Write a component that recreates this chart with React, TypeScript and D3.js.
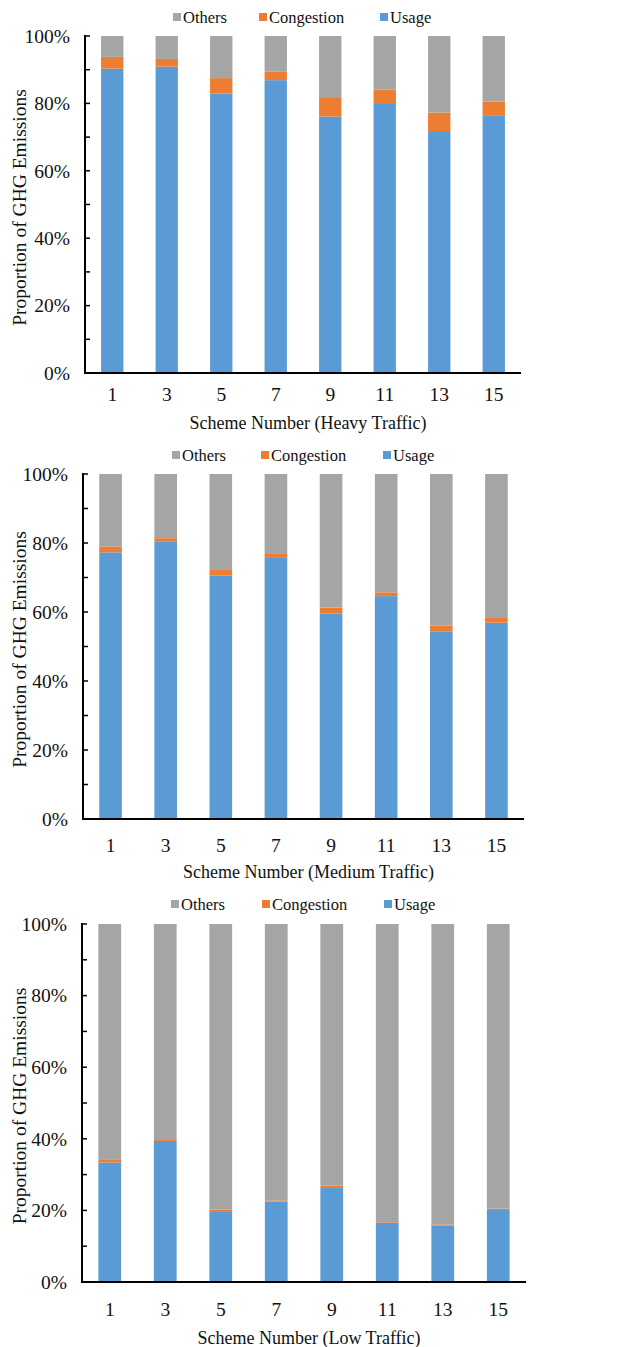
import React from 'react';
import * as d3 from 'd3';

const schemes = ['1', '3', '5', '7', '9', '11', '13', '15'];
const seriesKeys = ['usage', 'congestion', 'others'];
const seriesNames = { usage: 'Usage', congestion: 'Congestion', others: 'Others' };
const seriesColors = { usage: '#5b9bd5', congestion: '#ed7d31', others: '#a5a5a5' };
const legendOrder = ['others', 'congestion', 'usage'];
const yTicks = [0, 20, 40, 60, 80, 100];
const yMinorTicks = [10, 30, 50, 70, 90];

const heavyUsage = [90.3, 90.9, 82.9, 86.9, 76.1, 80.1, 71.8, 76.5];
const heavyCongestion = [3.5, 2.3, 4.6, 2.6, 5.5, 4.0, 5.5, 4.0];
const heavyOthers = [6.2, 6.8, 12.5, 10.5, 18.4, 15.9, 22.7, 19.5];

const mediumUsage = [77.3, 80.5, 70.6, 75.9, 59.5, 64.6, 54.4, 56.9];
const mediumCongestion = [1.7, 0.9, 1.8, 0.9, 1.8, 1.1, 1.7, 1.6];
const mediumOthers = [21.0, 18.6, 27.6, 23.2, 38.7, 34.3, 43.9, 41.5];

const lowUsage = [33.4, 39.4, 19.8, 22.5, 26.5, 16.6, 15.8, 20.1];
const lowCongestion = [0.7, 0.5, 0.4, 0.3, 0.4, 0.4, 0.3, 0.4];
const lowOthers = [65.9, 60.1, 79.8, 77.2, 73.1, 83.0, 83.9, 79.5];

const FONT = 'Liberation Serif';
const INK = '#111';

function Panel({ usage, congestion, others, title, box, legendY, legendX, tickY, titleY }) {
  const rows = schemes.map((s, i) => ({ scheme: s, usage: usage[i], congestion: congestion[i], others: others[i] }));
  const stacked = d3.stack().keys(seriesKeys)(rows);

  const x = d3.scaleBand().domain(schemes).range([box.left, box.right]).paddingInner(0.59).paddingOuter(0.295);
  const y = d3.scaleLinear().domain([0, 100]).range([box.bottom, box.top]);

  return (
    <g fontFamily={FONT} fill={INK}>
      {/* legend */}
      {legendOrder.map((k, i) => (
        <g key={k} transform={`translate(${legendX[i]}, ${legendY})`}>
          <rect x={0} y={-4} width={8} height={8} fill={seriesColors[k]} />
          <text x={10} y={0} dy="0.35em" fontSize={16.5} fill={INK}>{seriesNames[k]}</text>
        </g>
      ))}

      {/* bars */}
      {stacked.map(layer => (
        <g key={layer.key} fill={seriesColors[layer.key]}>
          {layer.map((d, i) => (
            <rect
              key={i}
              x={x(schemes[i])}
              y={y(d[1])}
              width={x.bandwidth()}
              height={Math.max(0, y(d[0]) - y(d[1]))}
            />
          ))}
        </g>
      ))}

      {/* y axis */}
      <line x1={box.left} x2={box.left} y1={box.top - 1} y2={box.bottom} stroke="#000" strokeWidth={2} />
      {yTicks.concat(yMinorTicks).map(t => (
        <line key={t} x1={box.left} x2={box.left + 5} y1={y(t)} y2={y(t)} stroke="#000" strokeWidth={1.5} />
      ))}
      {yTicks.map(t => (
        <text key={t} x={box.left - 15} y={y(t)} dy="0.35em" textAnchor="end" fontSize={19.5} fill={INK}>
          {t}%
        </text>
      ))}
      <text
        transform={`translate(${19}, ${(box.top + box.bottom) / 2 + 3}) rotate(-90)`}
        textAnchor="middle"
        dy="0.35em"
        fontSize={19.5}
        fill={INK}
      >
        Proportion of GHG Emissions
      </text>

      {/* x axis */}
      <line x1={box.left - 1} x2={box.right} y1={box.bottom} y2={box.bottom} stroke="#000" strokeWidth={2} />
      {schemes.map(s => (
        <text key={s} x={x(s) + x.bandwidth() / 2} y={tickY} dy="0.35em" textAnchor="middle" fontSize={19.5} fill={INK}>
          {s}
        </text>
      ))}
      <text x={(box.left + box.right) / 2 + 5} y={titleY} dy="0.35em" textAnchor="middle" fontSize={18} fill={INK}>
        {title}
      </text>
    </g>
  );
}

export default function App() {
  return (
    <svg
      width={639}
      height={1347}
      style={{ position: 'absolute', left: 0, top: 0, background: '#fff' }}
    >
      <rect width={639} height={1347} fill="#fff" />
      <Panel
        usage={heavyUsage}
        congestion={heavyCongestion}
        others={heavyOthers}
        title="Scheme Number (Heavy Traffic)"
        box={{ left: 85, right: 521, top: 36, bottom: 373 }}
        legendY={17}
        legendX={[173, 259, 380]}
        tickY={394}
        titleY={423}
      />
      <Panel
        usage={mediumUsage}
        congestion={mediumCongestion}
        others={mediumOthers}
        title="Scheme Number (Medium Traffic)"
        box={{ left: 83, right: 524, top: 474, bottom: 819 }}
        legendY={455}
        legendX={[172, 261, 383]}
        tickY={845}
        titleY={872}
      />
      <Panel
        usage={lowUsage}
        congestion={lowCongestion}
        others={lowOthers}
        title="Scheme Number (Low Traffic)"
        box={{ left: 82, right: 526, top: 924, bottom: 1282 }}
        legendY={904}
        legendX={[171, 262, 384]}
        tickY={1309}
        titleY={1338}
      />
    </svg>
  );
}
